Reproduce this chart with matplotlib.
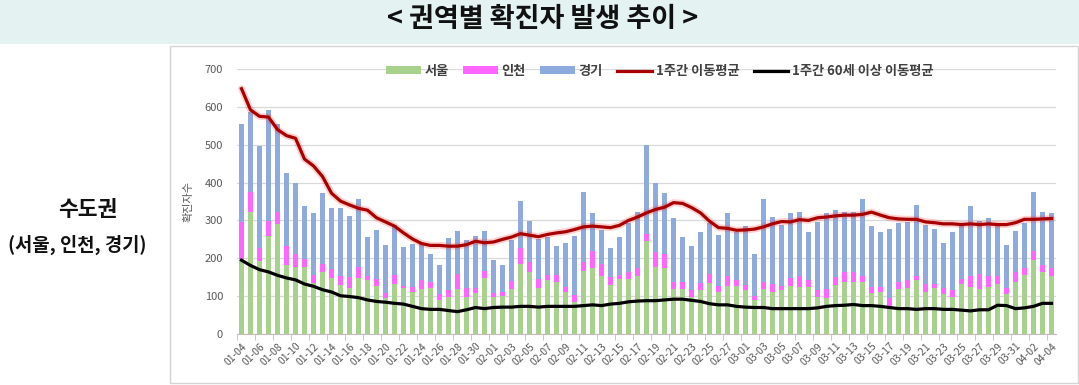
import matplotlib
matplotlib.use("Agg")
import matplotlib.pyplot as plt
import numpy as np
import pandas as pd
from matplotlib.patches import Rectangle, Patch
from matplotlib.lines import Line2D

plt.rcParams['font.family'] = ['Noto Sans CJK KR', 'DejaVu Sans']

dates = list(pd.date_range('2021-01-04', '2021-04-04').strftime('%m-%d'))

seoul = [197, 323, 194, 260, 291, 182, 177, 177, 136, 163, 147, 130, 122, 147, 142, 127, 94, 132, 121, 110,
         118, 122, 90, 99, 118, 99, 107, 149, 97, 101, 119, 184, 165, 122, 142, 138, 112, 85, 167, 175,
         153, 130, 144, 145, 153, 246, 176, 175, 119, 119, 99, 116, 134, 112, 127, 127, 116, 90, 118, 112,
         116, 127, 125, 125, 99, 96, 130, 137, 137, 137, 107, 112, 75, 119, 122, 142, 112, 121, 105, 97,
         131, 124, 119, 124, 132, 105, 138, 156, 196, 165, 152]
incheon = [100, 51, 32, 39, 31, 51, 35, 20, 20, 22, 25, 23, 28, 31, 10, 17, 13, 24, 7, 15,
           24, 16, 15, 17, 40, 22, 15, 18, 10, 11, 21, 42, 24, 22, 14, 18, 13, 18, 24, 43,
           31, 20, 12, 20, 22, 17, 40, 36, 19, 18, 17, 18, 24, 16, 25, 15, 14, 10, 20, 20,
           12, 22, 28, 17, 17, 23, 20, 28, 28, 17, 18, 13, 19, 19, 21, 11, 20, 11, 16, 19,
           14, 28, 40, 30, 20, 16, 27, 19, 22, 16, 22]
gyeonggi = [258, 212, 271, 293, 233, 193, 186, 141, 163, 187, 160, 179, 163, 178, 105, 130, 128, 132, 103, 112,
            98, 73, 76, 137, 115, 127, 137, 106, 89, 69, 107, 126, 110, 107, 101, 77, 115, 156, 183, 101,
            91, 76, 99, 128, 147, 237, 182, 161, 169, 118, 117, 136, 135, 134, 167, 128, 155, 111, 218, 178,
            160, 170, 169, 127, 181, 200, 177, 157, 157, 202, 160, 145, 183, 156, 154, 188, 156, 145, 119, 153,
            139, 186, 140, 153, 133, 114, 107, 119, 156, 142, 145]
ma7 = [648, 592, 575, 573, 540, 524, 517, 462, 444, 416, 372, 351, 341, 332, 327, 307, 296, 285, 267, 251,
       239, 234, 234, 232, 232, 236, 245, 241, 243, 250, 256, 265, 261, 257, 263, 267, 270, 276, 283, 285,
       283, 281, 287, 300, 309, 320, 329, 335, 347, 345, 334, 320, 298, 281, 279, 274, 275, 277, 283, 291,
       297, 296, 302, 300, 307, 309, 312, 314, 314, 316, 322, 314, 307, 304, 303, 303, 296, 294, 291, 291,
       289, 291, 289, 291, 289, 289, 294, 303, 303, 304, 305]
ma7_60 = [195, 181, 170, 164, 155, 148, 143, 132, 126, 117, 111, 101, 99, 96, 90, 86, 84, 81, 79, 73,
          67, 65, 65, 62, 59, 64, 70, 67, 70, 71, 71, 73, 73, 71, 73, 73, 73, 73, 75, 77,
          75, 79, 81, 85, 87, 88, 88, 90, 92, 92, 89, 86, 80, 77, 77, 73, 71, 70, 70, 67,
          67, 67, 67, 67, 69, 73, 75, 76, 78, 75, 75, 73, 70, 67, 67, 65, 67, 67, 65, 65,
          63, 61, 64, 64, 76, 75, 67, 69, 73, 81, 81]

yticks = [0, 100, 200, 300, 400, 500, 600, 700]

W, H = 1079, 385
fig = plt.figure(figsize=(W / 100, H / 100), dpi=100)

# title band
fig.patches.append(Rectangle((0, 1 - 44 / H), 1, 44 / H, transform=fig.transFigure,
                             facecolor='#e4f2f2', edgecolor='none', zorder=-2))
fig.text(543 / W, 1 - 19 / H, '< 권역별 확진자 발생 추이 >', ha='center', va='center',
         fontsize=19.5, fontweight='bold', color='#111111')

# chart frame
fig.patches.append(Rectangle((170 / W, 2 / H), (W - 171) / W, (H - 48) / H, transform=fig.transFigure,
                             facecolor='white', edgecolor='#d4d4d4', lw=1, zorder=-2))

# left labels
fig.text(88 / W, 1 - 210 / H, '수도권', ha='center', va='center', fontsize=15.5,
         fontweight='bold', color='#111111')
fig.text(77 / W, 1 - 245 / H, '(서울, 인천, 경기)', ha='center', va='center', fontsize=13.5,
         fontweight='bold', color='#111111')

ax = fig.add_axes([237 / W, 1 - 334 / H, (1056 - 237) / W, (334 - 69) / H])
ax.set_zorder(2)
ax.set_facecolor('none')
x = np.arange(len(dates))
s = np.array(seoul)
i = np.array(incheon)
g = np.array(gyeonggi)
bw = 0.66
ax.bar(x, s, bw, color='#a9d18e', zorder=2, label='서울')
ax.bar(x, i, bw, bottom=s, color='#ff66ff', zorder=2, label='인천')
ax.bar(x, g, bw, bottom=s + i, color='#8faadc', zorder=2, label='경기')
ax.plot(x, ma7, color='#ff3030', lw=5, alpha=0.22, zorder=3, solid_capstyle='round')
ax.plot(x, ma7, color='#a80000', lw=2.3, zorder=4)
ax.plot(x, ma7_60, color='#000000', lw=2.3, zorder=4)

ax.set_xlim(-0.5, len(dates) - 0.5)
ax.set_ylim(0, 700)
ax.set_yticks(yticks)
ax.yaxis.grid(True, color='#d9d9d9', lw=0.9, zorder=0)
ax.set_axisbelow(True)
for sp in ['left', 'right', 'top']:
    ax.spines[sp].set_visible(False)
ax.spines['bottom'].set_color('#bfbfbf')
ax.tick_params(axis='y', length=0, labelsize=8, labelcolor='#595959', pad=10)
ax.set_xticks(x[::2])
ax.set_xticklabels(dates[::2], rotation=45, ha='right', rotation_mode='anchor')
ax.tick_params(axis='x', which='major', length=0, labelsize=7.5, labelcolor='#595959', pad=5)
ax.set_xticks(np.arange(-0.5, len(dates), 2), minor=True)
ax.tick_params(axis='x', which='minor', length=4, color='#bfbfbf')
ax.set_ylabel('확진자수', fontsize=8, color='#595959', labelpad=8)

handles = [Patch(facecolor='#a9d18e', label='서울'),
           Patch(facecolor='#ff66ff', label='인천'),
           Patch(facecolor='#8faadc', label='경기'),
           Line2D([], [], color='#a80000', lw=2.3, label='1주간 이동평균'),
           Line2D([], [], color='#000000', lw=2.3, label='1주간 60세 이상 이동평균')]
leg = fig.legend(handles=handles, loc='center', bbox_to_anchor=(660 / W, 1 - 71 / H), ncol=5,
                 frameon=False, fontsize=9.5, handlelength=2.6, handleheight=0.55,
                 columnspacing=1.1, handletextpad=0.3)
leg.set_zorder(5)
for t in leg.get_texts():
    t.set_color('#404040')
    t.set_fontweight('bold')

fig.savefig('out.png', dpi=100)
